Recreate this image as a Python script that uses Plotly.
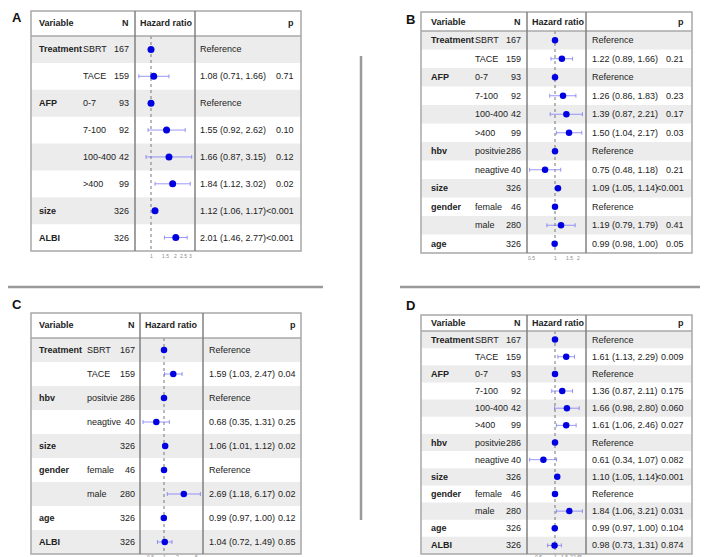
import math
import plotly.graph_objects as go

W, H = 708, 557

# ---------------- data ----------------
A_variable = ["Treatment", "", "AFP", "", "", "", "size", "ALBI"]
A_level = ["SBRT", "TACE", "0-7", "7-100", "100-400", ">400", "", ""]
A_n = [167, 159, 93, 92, 42, 99, 326, 326]
A_hr = [1.00, 1.08, 1.00, 1.55, 1.66, 1.84, 1.12, 2.01]
A_lo = [None, 0.71, None, 0.92, 0.87, 1.12, 1.06, 1.46]
A_hi = [None, 1.66, None, 2.62, 3.15, 3.02, 1.17, 2.77]
A_p = ["", "0.71", "", "0.10", "0.12", "0.02", "<0.001", "<0.001"]
A_ticks = [1, 1.5, 2, 2.5, 3]

B_variable = ["Treatment", "", "AFP", "", "", "", "hbv", "", "size", "gender", "", "age"]
B_level = ["SBRT", "TACE", "0-7", "7-100", "100-400", ">400", "positvie", "neagtive", "", "female", "male", ""]
B_n = [167, 159, 93, 92, 42, 99, 286, 40, 326, 46, 280, 326]
B_hr = [1.00, 1.22, 1.00, 1.26, 1.39, 1.50, 1.00, 0.75, 1.09, 1.00, 1.19, 0.99]
B_lo = [None, 0.89, None, 0.86, 0.87, 1.04, None, 0.48, 1.05, None, 0.79, 0.98]
B_hi = [None, 1.66, None, 1.83, 2.21, 2.17, None, 1.18, 1.14, None, 1.79, 1.00]
B_p = ["", "0.21", "", "0.23", "0.17", "0.03", "", "0.21", "<0.001", "", "0.41", "0.05"]
B_ticks = [0.5, 1, 1.5, 2]

C_variable = ["Treatment", "", "hbv", "", "size", "gender", "", "age", "ALBI"]
C_level = ["SBRT", "TACE", "positvie", "neagtive", "", "female", "male", "", ""]
C_n = [167, 159, 286, 40, 326, 46, 280, 326, 326]
C_hr = [1.00, 1.59, 1.00, 0.68, 1.06, 1.00, 2.69, 0.99, 1.04]
C_lo = [None, 1.03, None, 0.35, 1.01, None, 1.18, 0.97, 0.72]
C_hi = [None, 2.47, None, 1.31, 1.12, None, 6.17, 1.00, 1.49]
C_p = ["", "0.04", "", "0.25", "0.02", "", "0.02", "0.12", "0.85"]
C_ticks = [0.5, 1, 2, 5]

D_variable = ["Treatment", "", "AFP", "", "", "", "hbv", "", "size", "gender", "", "age", "ALBI"]
D_level = ["SBRT", "TACE", "0-7", "7-100", "100-400", ">400", "positvie", "neagtive", "", "female", "male", "", ""]
D_n = [167, 159, 93, 92, 42, 99, 286, 40, 326, 46, 280, 326, 326]
D_hr = [1.00, 1.61, 1.00, 1.36, 1.66, 1.61, 1.00, 0.61, 1.10, 1.00, 1.84, 0.99, 0.98]
D_lo = [None, 1.13, None, 0.87, 0.98, 1.06, None, 0.34, 1.05, None, 1.06, 0.97, 0.73]
D_hi = [None, 2.29, None, 2.11, 2.80, 2.46, None, 1.07, 1.14, None, 3.21, 1.00, 1.31]
D_p = ["", "0.009", "", "0.175", "0.060", "0.027", "", "0.082", "<0.001", "", "0.031", "0.104", "0.874"]
D_ticks = [0.5, 1, 1.5, 2, 2.5, 3]

panels = [
    ("A", A_variable, A_level, A_n, A_hr, A_lo, A_hi, A_p, A_ticks),
    ("B", B_variable, B_level, B_n, B_hr, B_lo, B_hi, B_p, B_ticks),
    ("C", C_variable, C_level, C_n, C_hr, C_lo, C_hi, C_p, C_ticks),
    ("D", D_variable, D_level, D_n, D_hr, D_lo, D_hi, D_p, D_ticks),
]

# ---------------- geometry (pixels) ----------------
geom = {
    "A": dict(lab=(9, 10), x0=23, x1=293, top=3, hb=28, bottom=243, colN=127, colT=187,
              var_x=29, lev_x=73, n_r=123, txt_x=190, p_r=288, c1=143, s=35.5, ms=7, tg=5),
    "B": dict(lab=(402, 11), x0=413, x1=684, top=4, hb=23, bottom=245, colN=519, colT=578,
              var_x=421, lev_x=465, n_r=515, txt_x=582, p_r=678, c1=547, s=34.6, ms=6.5, tg=5),
    "C": dict(lab=(9, 296), x0=23, x1=293, top=305, hb=330, bottom=546, colN=132, colT=195,
              var_x=29, lev_x=77, n_r=129, txt_x=199, p_r=290, c1=156, s=20.0, ms=6.5, tg=2.5),
    "D": dict(lab=(402, 297), x0=413, x1=684, top=307, hb=323, bottom=546, colN=519, colT=578,
              var_x=421, lev_x=465, n_r=515, txt_x=582, p_r=678, c1=547, s=23.5, ms=6.5, tg=2.5),
}

FONT = "Liberation Sans, Arial, sans-serif"
FS = 9.0
TXT = "#222222"
BAND = "#ECECEC"
BORDER = "#A8A8A8"
DIVIDER = "#808080"
DOT = "rgb(0,0,225)"
ERR = "rgba(110,110,245,0.7)"


def px(x):
    return x / W


def py(y):
    return 1 - y / H


fig = go.Figure()
shapes = []
annotations = []
layout_axes = {}

for k, (name, var, lev, n, hr, lo, hi, p, ticks) in enumerate(panels):
    g = geom[name]
    idx = k + 1
    xa = "x" if idx == 1 else f"x{idx}"
    ya = "y" if idx == 1 else f"y{idx}"
    xkey = "xaxis" if idx == 1 else f"xaxis{idx}"
    ykey = "yaxis" if idx == 1 else f"yaxis{idx}"
    nrows = len(var)
    ln10 = math.log(10)
    xr = [(g["colN"] - g["c1"]) / g["s"] / ln10, (g["colT"] - g["c1"]) / g["s"] / ln10]
    layout_axes[xkey] = dict(
        domain=[px(g["colN"]), px(g["colT"])], range=xr, type="log", anchor=ya,
        showgrid=False, zeroline=False, showline=False, ticks="", showticklabels=False,
        fixedrange=True,
    )
    layout_axes[ykey] = dict(
        domain=[py(g["bottom"]), py(g["hb"])], range=[nrows - 0.5, -0.5], anchor=xa,
        showgrid=False, zeroline=False, showline=False, showticklabels=False, ticks="",
        fixedrange=True,
    )

    # tick labels placed through the x axis (log axis -> annotation x in log10 units)
    for t in ticks:
        annotations.append(dict(text=f"{t:g}", xref=xa, yref="paper", x=math.log10(t),
                                y=py(g["bottom"] + g["tg"]), showarrow=False, xanchor="center",
                                yanchor="middle", borderpad=0,
                                font=dict(size=5, color="#8a8a8a", family=FONT)))

    # row bands
    for i in range(nrows):
        if i % 2 == 0:
            shapes.append(dict(type="rect", xref="paper", yref=ya, x0=px(g["x0"]), x1=px(g["x1"]),
                               y0=i - 0.5, y1=i + 0.5, fillcolor=BAND, line=dict(width=0), layer="below"))
    # table borders
    shapes.append(dict(type="rect", xref="paper", yref="paper", x0=px(g["x0"]), x1=px(g["x1"]),
                       y0=py(g["bottom"]), y1=py(g["top"]), line=dict(color=BORDER, width=1.5),
                       fillcolor="rgba(0,0,0,0)", layer="above"))
    shapes.append(dict(type="line", xref="paper", yref="paper", x0=px(g["x0"]), x1=px(g["x1"]),
                       y0=py(g["hb"]), y1=py(g["hb"]), line=dict(color=BORDER, width=1.5)))
    for cx in (g["colN"], g["colT"]):
        shapes.append(dict(type="line", xref="paper", yref="paper", x0=px(cx), x1=px(cx),
                           y0=py(g["bottom"]), y1=py(g["top"]), line=dict(color=DIVIDER, width=1.5)))

    # panel label
    annotations.append(dict(text=f"<b>{name}</b>", xref="paper", yref="paper", x=px(g["lab"][0]),
                            y=py(g["lab"][1]), showarrow=False, xanchor="center", yanchor="middle",
                            font=dict(size=13, color="#111", family=FONT)))
    # header
    hy = py((g["top"] + g["hb"]) / 2)
    for txt, xx, anc in (("Variable", g["var_x"], "left"), ("N", g["n_r"], "right"),
                         ("Hazard ratio", g["colN"] + 3, "left"), ("p", g["p_r"], "right")):
        annotations.append(dict(text=f"<b>{txt}</b>", xref="paper", yref="paper", x=px(xx), y=hy,
                                showarrow=False, xanchor=anc, yanchor="middle",
                                font=dict(size=FS, color=TXT, family=FONT)))
    # rows
    for i in range(nrows):
        cells = []
        if var[i]:
            cells.append((f"<b>{var[i]}</b>", g["var_x"], "left"))
        if lev[i]:
            cells.append((lev[i], g["lev_x"], "left"))
        cells.append((str(n[i]), g["n_r"], "right"))
        if lo[i] is None:
            cells.append(("Reference", g["txt_x"], "left"))
        else:
            cells.append((f"{hr[i]:.2f} ({lo[i]:.2f}, {hi[i]:.2f})", g["txt_x"], "left"))
            cells.append((p[i], g["p_r"], "right"))
        for txt, xx, anc in cells:
            annotations.append(dict(text=txt, xref="paper", yref=ya, x=px(xx), y=i, showarrow=False,
                                    xanchor=anc, yanchor="middle",
                                    font=dict(size=FS, color=TXT, family=FONT)))

    # reference dotted line
    fig.add_trace(go.Scatter(x=[1, 1], y=[-0.5, nrows - 0.5], mode="lines", xaxis=xa, yaxis=ya,
                             line=dict(color="#777", width=1, dash="dot"), hoverinfo="skip"))
    # estimates with CI
    ci_rows = [i for i in range(nrows) if lo[i] is not None]
    ref_rows = [i for i in range(nrows) if lo[i] is None]
    fig.add_trace(go.Scatter(
        x=[hr[i] for i in ci_rows], y=ci_rows, mode="markers", xaxis=xa, yaxis=ya,
        marker=dict(color=DOT, size=g["ms"]),
        error_x=dict(type="data", symmetric=False,
                     array=[hi[i] - hr[i] for i in ci_rows],
                     arrayminus=[hr[i] - lo[i] for i in ci_rows],
                     color=ERR, thickness=1, width=2),
        cliponaxis=False))
    fig.add_trace(go.Scatter(
        x=[hr[i] for i in ref_rows], y=ref_rows, mode="markers", xaxis=xa, yaxis=ya,
        marker=dict(color=DOT, size=g["ms"]), cliponaxis=False))

# separators
SEP = "#9a9a9a"
shapes.append(dict(type="line", xref="paper", yref="paper", x0=0, x1=px(315), y0=py(279), y1=py(279),
                   line=dict(color=SEP, width=2.5)))
shapes.append(dict(type="line", xref="paper", yref="paper", x0=px(392), x1=1, y0=py(279), y1=py(279),
                   line=dict(color=SEP, width=2.5)))
shapes.append(dict(type="line", xref="paper", yref="paper", x0=px(353), x1=px(353), y0=py(48), y1=py(512),
                   line=dict(color=SEP, width=2.5)))

fig.update_layout(
    width=W, height=H, margin=dict(l=0, r=0, t=0, b=0),
    paper_bgcolor="white", plot_bgcolor="rgba(0,0,0,0)", showlegend=False,
    shapes=shapes, annotations=annotations, **layout_axes,
)

fig.write_html("out.html")
